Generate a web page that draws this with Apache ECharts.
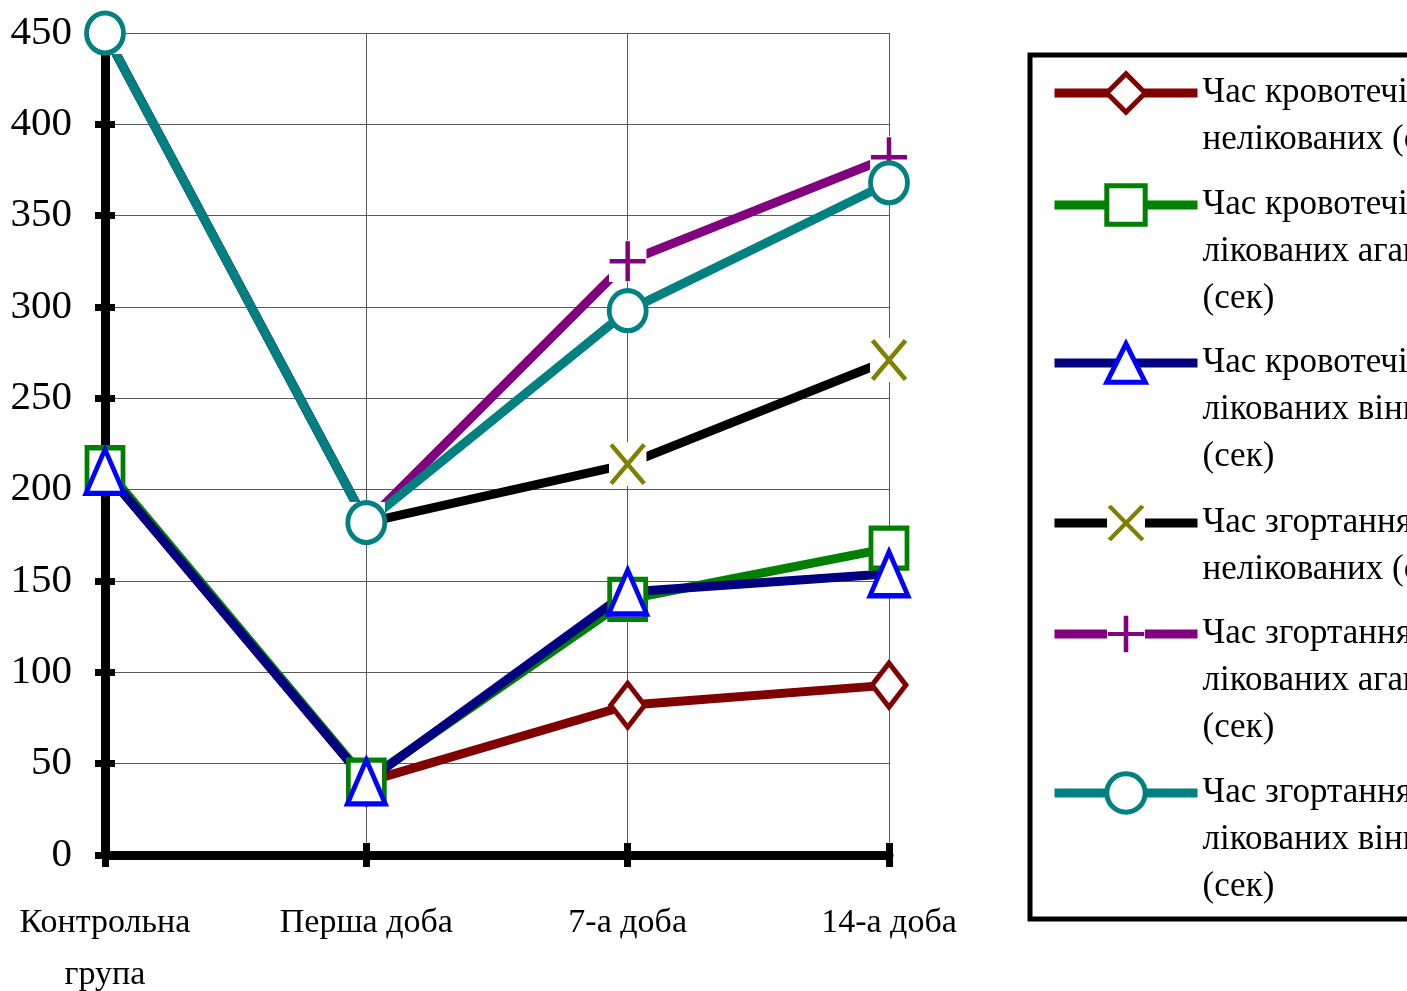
<!DOCTYPE html>
<html><head><meta charset="utf-8">
<script src="https://cdn.jsdelivr.net/npm/echarts@6/dist/echarts.min.js"></script>
<style>html,body{margin:0;padding:0;background:#fff;}#c{width:1407px;height:991px;}</style>
</head><body><div id="c"></div>
<script>
const categories = ['Контрольна\nгрупа', 'Перша доба', '7-а доба', '14-а доба'];
const seriesNames = [
  'Час кровотечі у\nнелікованих (сек)',
  'Час кровотечі у\nлікованих агапурином\n(сек)',
  'Час кровотечі у\nлікованих вінпоцетином\n(сек)',
  'Час згортання у\nнелікованих (сек)',
  'Час згортання у\nлікованих агапурином\n(сек)',
  'Час згортання у\nлікованих вінпоцетином\n(сек)'
];
const bleedUntreated   = [210, 40, 82, 93];
const bleedAgapurin    = [212, 41, 140, 168];
const bleedVinpocetine = [210, 40, 144, 154];
const clotUntreated    = [450, 182, 214, 271];
const clotAgapurin     = [450, 182, 325, 382];
const clotVinpocetine  = [450, 182, 298, 368];
const yMin = 0, yMax = 450, yInterval = 50;

const FONT = 'Liberation Serif';
function svgSym(svg){ return 'image://data:image/svg+xml;charset=utf-8,' + encodeURIComponent(svg); }
const X_SYM = svgSym('<svg xmlns="http://www.w3.org/2000/svg" width="38" height="44" viewBox="0 0 38 44"><rect width="38" height="44" fill="#ffffff"/><path d="M2.5 2.5L35.5 41.5M35.5 2.5L2.5 41.5" stroke="#808000" stroke-width="4.5" fill="none"/></svg>');
const PLUS_SYM = svgSym('<svg xmlns="http://www.w3.org/2000/svg" width="38" height="42" viewBox="0 0 38 42"><rect width="38" height="42" fill="#ffffff"/><path d="M19 1V41M1 21H37" stroke="#800080" stroke-width="4.5" fill="none"/></svg>');

const chart = echarts.init(document.getElementById('c'), null, {renderer: 'canvas'});

function lineSeries(name, data, lineColor, symbol, size, border, fill, bw) {
  return {
    name: name, type: 'line', data: data, clip: false,
    symbol: symbol, symbolSize: size,
    lineStyle: {color: lineColor, width: 9},
    itemStyle: {color: fill, borderColor: border, borderWidth: bw},
    emphasis: {disabled: true}
  };
}

const series = [
  lineSeries(seriesNames[0], bleedUntreated, '#800000', 'diamond', [34, 44], '#800000', '#ffffff', 5),
  lineSeries(seriesNames[1], bleedAgapurin, '#008000', 'rect', [36, 40], '#008000', '#ffffff', 5),
  lineSeries(seriesNames[2], bleedVinpocetine, '#000080', 'triangle', [38, 44], '#0000ff', '#ffffff', 5),
  lineSeries(seriesNames[3], clotUntreated, '#000000', X_SYM, function (v, p) { return p.dataIndex < 2 ? 0 : [38, 44]; }, '#808000', '#808000', 0),
  lineSeries(seriesNames[4], clotAgapurin, '#800080', PLUS_SYM, [38, 42], '#800080', '#800080', 0),
  lineSeries(seriesNames[5], clotVinpocetine, '#008080', 'circle', [37, 40], '#008080', '#ffffff', 5)
];

const legendCenters = [93, 205, 363, 523, 634, 793];
const LH = 47;
const legends = seriesNames.map(function (n, i) {
  const N = n.split('\n').length;
  return {
    data: [n], orient: 'vertical', left: 1050, top: legendCenters[i] - (2 * N - 1) * LH / 2,
    padding: 0, itemWidth: 143, itemHeight: 48, selectedMode: false,
    formatter: function (name) { return '\n'.repeat(N - 1) + name; },
    textStyle: {fontFamily: FONT, fontSize: 35, lineHeight: LH, color: '#000'},
    lineStyle: {width: 9},
    itemStyle: {borderWidth: (i === 3 || i === 4) ? 0 : 5}
  };
});

const option = {
  backgroundColor: '#ffffff',
  animation: false,
  grid: {left: 105, top: 33, width: 784, height: 822, containLabel: false, outerBoundsMode: 'none'},
  legend: legends,
  graphic: [{
    type: 'rect', silent: true, z: 100,
    shape: {x: 1030, y: 55, width: 420, height: 864},
    style: {fill: 'none', stroke: '#000', lineWidth: 5}
  }],
  xAxis: [{
    type: 'category', data: categories, boundaryGap: false, position: 'bottom',
    axisLine: {show: true, lineStyle: {color: '#000', width: 9}},
    axisTick: {show: true, length: 12, lineStyle: {color: '#000', width: 7}},
    axisLabel: {fontFamily: FONT, fontSize: 34, lineHeight: 52, color: '#000', margin: 42, interval: 0},
    splitLine: {show: true, lineStyle: {color: '#5a5a5a', width: 1}}
  }, {
    type: 'category', data: categories, boundaryGap: false, position: 'bottom', offset: 0,
    axisLine: {show: false},
    axisTick: {show: true, inside: true, length: 12, lineStyle: {color: '#000', width: 7}},
    axisLabel: {show: false}, splitLine: {show: false}
  }],
  yAxis: [{
    type: 'value', min: yMin, max: yMax, interval: yInterval, position: 'left',
    axisLine: {show: true, lineStyle: {color: '#000', width: 9}},
    axisTick: {show: true, length: 10, lineStyle: {color: '#000', width: 7}},
    axisLabel: {fontFamily: FONT, fontSize: 41, color: '#000', margin: 33},
    splitLine: {show: true, lineStyle: {color: '#5a5a5a', width: 1}}
  }, {
    type: 'value', min: yMin, max: yMax, interval: yInterval, position: 'left', offset: 0,
    axisLine: {show: false},
    axisTick: {show: true, inside: true, length: 10, lineStyle: {color: '#000', width: 7}},
    axisLabel: {show: false}, splitLine: {show: false}
  }],
  series: series
};
chart.setOption(option);
</script>
</body></html>
